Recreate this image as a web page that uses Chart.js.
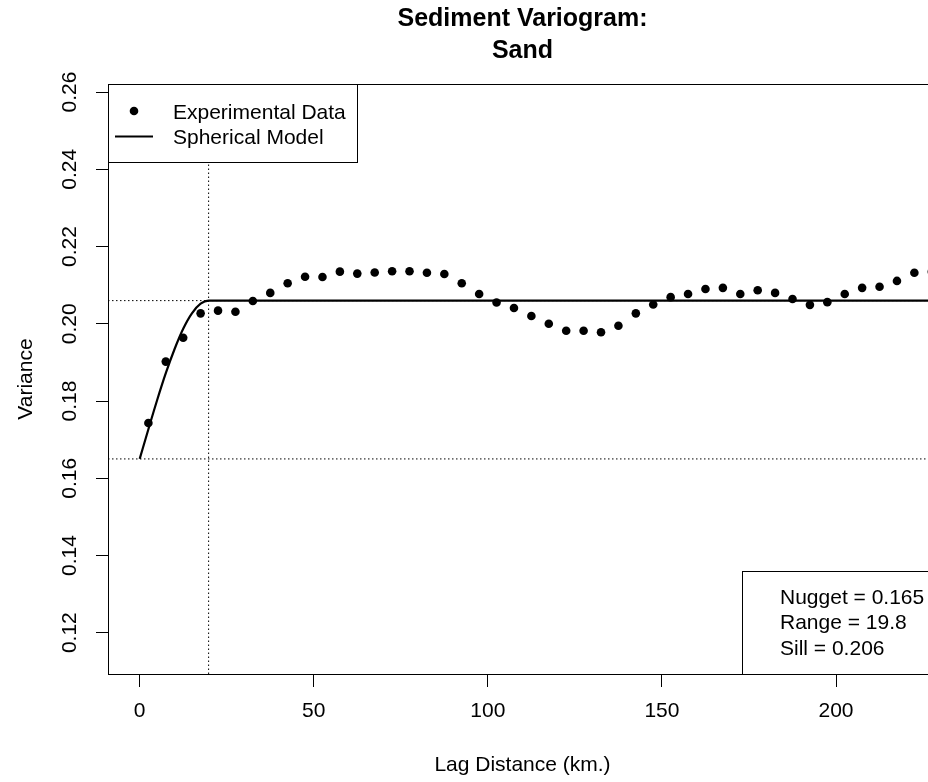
<!DOCTYPE html>
<html><head><meta charset="utf-8">
<script src="https://cdn.jsdelivr.net/npm/chart.js@4.4.1/dist/chart.umd.min.js"></script>
<style>html,body{margin:0;padding:0;background:#fff;overflow:hidden;width:928px;height:782px}canvas{display:block}</style>
</head><body>
<canvas id="c" width="960" height="782"></canvas>
<script>
// ---- data ----
const lags = [2.5, 7.5, 12.5, 17.5, 22.5, 27.5, 32.5, 37.5, 42.5, 47.5, 52.5, 57.5, 62.5, 67.5, 72.5, 77.5,
  82.5, 87.5, 92.5, 97.5, 102.5, 107.5, 112.5, 117.5, 122.5, 127.5, 132.5, 137.5, 142.5, 147.5, 152.5,
  157.5, 162.5, 167.5, 172.5, 177.5, 182.5, 187.5, 192.5, 197.5, 202.5, 207.5, 212.5, 217.5, 222.5, 227.5];
const gamma = [0.1743, 0.1902, 0.1964, 0.2027, 0.2034, 0.2031, 0.2059, 0.2080, 0.2105, 0.2122, 0.2121, 0.2135,
  0.2130, 0.2133, 0.2136, 0.2136, 0.2132, 0.2129, 0.2105, 0.2077, 0.2055, 0.2041, 0.2020, 0.2000, 0.1982,
  0.1982, 0.1978, 0.1995, 0.2027, 0.2050, 0.2069, 0.2077, 0.2090, 0.2093, 0.2077, 0.2087, 0.2080, 0.2064,
  0.2049, 0.2056, 0.2077, 0.2093, 0.2096, 0.2111, 0.2132, 0.2135];
const modelLag = [0, 2.5, 5, 7.5, 10, 12.5, 15, 17.5, 19.8, 229];
const modelGamma = [0.165, 0.1727, 0.1802, 0.1872, 0.1934, 0.1987, 0.2027, 0.2052, 0.206, 0.206];
const nugget = 0.165, rangeKm = 19.8, sill = 0.206;
const xTicks = [0, 50, 100, 150, 200];
const yTicks = [0.12, 0.14, 0.16, 0.18, 0.20, 0.22, 0.24, 0.26];
const xMin = -9.1, xMax = 229, yMin = 0.1093, yMax = 0.2621;
const titleLines = ['Sediment Variogram:', 'Sand'];
const xTitle = 'Lag Distance (km.)';
const yTitle = 'Variance';
const legendLabels = ['Experimental Data', 'Spherical Model'];
const statLabels = ['Nugget = ' + nugget, 'Range = ' + rangeKm, 'Sill = ' + sill];

const FONT = "'Liberation Sans', Arial, Helvetica, sans-serif";
const DOT = [1.5, 2.5];

const pts = (xs, ys) => xs.map((x, i) => ({x, y: ys[i]}));

const rPlugin = {
  id: 'rbox',
  afterDatasetsDraw(chart) {
    const {ctx, chartArea: a} = chart;
    ctx.save();
    ctx.strokeStyle = '#000';
    ctx.lineWidth = 1;
    ctx.setLineDash([]);
    ctx.strokeRect(a.left + 0.5, a.top + 0.5, a.right - a.left, a.bottom - a.top);
    ctx.font = '21px ' + FONT;
    ctx.textBaseline = 'middle';
    ctx.textAlign = 'left';
    // top-left legend
    const tw = Math.max(...legendLabels.map(t => ctx.measureText(t).width));
    const lx = a.left, ly = a.top, lw = Math.round(65 + tw + 11), lh = 78;
    ctx.fillStyle = '#fff';
    ctx.fillRect(lx, ly, lw, lh);
    ctx.strokeRect(lx + 0.5, ly + 0.5, lw, lh);
    ctx.fillStyle = '#000';
    ctx.beginPath(); ctx.arc(lx + 26, ly + 27, 4.3, 0, Math.PI * 2); ctx.fill();
    ctx.lineWidth = 2.2;
    ctx.beginPath(); ctx.moveTo(lx + 7, ly + 52.5); ctx.lineTo(lx + 45, ly + 52.5); ctx.stroke();
    ctx.fillText(legendLabels[0], lx + 65, ly + 29);
    ctx.fillText(legendLabels[1], lx + 65, ly + 54);
    // bottom-right stats box
    ctx.lineWidth = 1;
    const sw = Math.max(...statLabels.map(t => ctx.measureText(t).width));
    const bw = Math.round(38 + sw + 13), bh = 103;
    const bx = a.right - bw, by = a.bottom - bh;
    ctx.fillStyle = '#fff';
    ctx.fillRect(bx, by, bw, bh);
    ctx.strokeRect(bx + 0.5, by + 0.5, bw, bh);
    ctx.fillStyle = '#000';
    statLabels.forEach((t, i) => ctx.fillText(t, bx + 38, by + 27 + i * 25.5));
    ctx.restore();
  }
};

new Chart(document.getElementById('c'), {
  type: 'scatter',
  data: {
    datasets: [
      {label: legendLabels[0], data: pts(lags, gamma), showLine: false, pointRadius: 4.3,
       pointBackgroundColor: '#000', pointBorderWidth: 0, pointHoverRadius: 4.3},
      {label: legendLabels[1], data: pts(modelLag, modelGamma), showLine: true, borderColor: '#000',
       borderWidth: 2.2, pointRadius: 0, cubicInterpolationMode: 'monotone'},
      {label: 'sill', data: [{x: xMin, y: sill}, {x: xMax, y: sill}], showLine: true, borderColor: '#000',
       borderWidth: 1, borderDash: DOT, pointRadius: 0},
      {label: 'nugget', data: [{x: xMin, y: nugget}, {x: xMax, y: nugget}], showLine: true, borderColor: '#000',
       borderWidth: 1, borderDash: DOT, pointRadius: 0},
      {label: 'range', data: [{x: rangeKm, y: yMin}, {x: rangeKm, y: yMax}], showLine: true, borderColor: '#000',
       borderWidth: 1, borderDash: DOT, pointRadius: 0}
    ]
  },
  options: {
    responsive: false,
    animation: false,
    devicePixelRatio: 1,
    layout: {padding: {left: 0, top: 0, right: 23, bottom: 0}},
    plugins: {
      legend: {display: false},
      tooltip: {enabled: false},
      title: {
        display: true, fullSize: false, text: titleLines, color: '#000',
        font: {family: FONT, size: 25, weight: 'bold', lineHeight: 1.28},
        padding: {top: 3, bottom: 17}
      }
    },
    scales: {
      x: {
        type: 'linear', position: 'bottom', min: xMin, max: xMax,
        afterFit: s => { s.height = 108; },
        afterBuildTicks: s => { s.ticks = xTicks.map(v => ({value: v})); },
        ticks: {color: '#000', font: {family: FONT, size: 21}, padding: 12, maxRotation: 0,
                callback: v => String(v)},
        grid: {drawOnChartArea: false, drawTicks: true, tickLength: 13, tickColor: '#000', tickWidth: 1},
        border: {display: true, color: '#000', width: 1},
        title: {display: true, text: xTitle, color: '#000', font: {family: FONT, size: 21}, padding: {bottom: 4}}
      },
      y: {
        type: 'linear', position: 'left', min: yMin, max: yMax,
        afterFit: s => { s.width = 108; },
        afterBuildTicks: s => { s.ticks = yTicks.map(v => ({value: v})); },
        ticks: {color: '#000', font: {family: FONT, size: 21}, padding: 5, minRotation: 90, maxRotation: 90,
                crossAlign: 'center', callback: v => Number(v).toFixed(2)},
        grid: {drawOnChartArea: false, drawTicks: true, tickLength: 12, tickColor: '#000', tickWidth: 1},
        border: {display: true, color: '#000', width: 1},
        title: {display: true, text: yTitle, color: '#000', font: {family: FONT, size: 21}, padding: {top: 14}}
      }
    }
  },
  plugins: [rPlugin]
});
</script>
</body></html>
